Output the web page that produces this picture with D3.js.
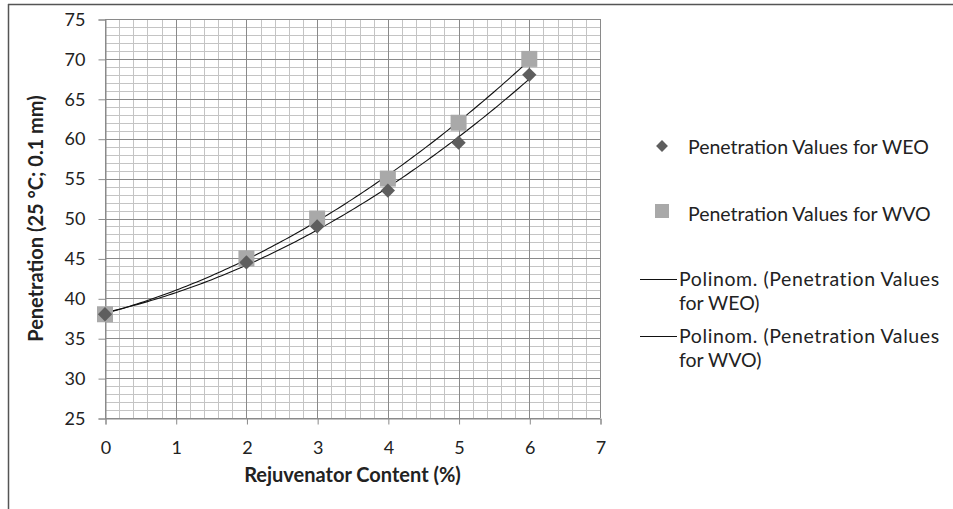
<!DOCTYPE html>
<html>
<head>
<meta charset="utf-8">
<script src="https://cdn.jsdelivr.net/npm/d3@7"></script>
<style>
  body { margin: 0; background: #fff; overflow: hidden; }
  text { font-family: Lato, "Open Sans", sans-serif; fill: #222; }
</style>
</head>
<body>
<script>
const width = 953,
  height = 509;

const margin = { top: 19, right: 353, bottom: 91, left: 105 };
const innerWidth = width - margin.left - margin.right;
const innerHeight = height - margin.top - margin.bottom;

// data
const contents = [0, 2, 3, 4, 5, 6];
const weoValues = [38, 44.5, 49, 53.5, 59.5, 68];
const wvoValues = [38, 45, 50, 55, 62, 70];
const xTicks = [0, 1, 2, 3, 4, 5, 6, 7];
const yTicks = [25, 30, 35, 40, 45, 50, 55, 60, 65, 70, 75];
const legendLabels = [
  "Penetration Values for WEO",
  "Penetration Values for WVO",
  ["Polinom. (Penetration Values", "for WEO)"],
  ["Polinom. (Penetration Values", "for WVO)"]
];

// 2nd order least squares fit, like the excel trendline
function polyFit(xs, ys) {
  let s = [0, 0, 0, 0, 0], t = [0, 0, 0];
  xs.forEach((x, i) => {
    for (let k = 0; k < 5; k++) s[k] += Math.pow(x, k);
    for (let k = 0; k < 3; k++) t[k] += ys[i] * Math.pow(x, k);
  });
  const A = [
    [s[0], s[1], s[2], t[0]],
    [s[1], s[2], s[3], t[1]],
    [s[2], s[3], s[4], t[2]]
  ];
  for (let i = 0; i < 3; i++) {
    for (let j = i + 1; j < 3; j++) {
      const f = A[j][i] / A[i][i];
      for (let k = i; k < 4; k++) A[j][k] -= f * A[i][k];
    }
  }
  const c = [0, 0, 0];
  for (let i = 2; i >= 0; i--) {
    let v = A[i][3];
    for (let k = i + 1; k < 3; k++) v -= A[i][k] * c[k];
    c[i] = v / A[i][i];
  }
  return x => c[0] + c[1] * x + c[2] * x * x;
}

const xScale = d3.scaleLinear().domain([0, 7]).range([0, innerWidth]);
const yScale = d3.scaleLinear().domain([25, 75]).range([innerHeight, 0]);

const svg = d3
  .select("body")
  .append("svg")
  .attr("width", width)
  .attr("height", height);

// outer chart border (only top and left show)
svg
  .append("line")
  .attr("x1", 8).attr("x2", width)
  .attr("y1", 4.5).attr("y2", 4.5)
  .attr("stroke", "#555")
  .attr("stroke-width", 1.5);
svg
  .append("line")
  .attr("x1", 8.5).attr("x2", 8.5)
  .attr("y1", 4).attr("y2", height)
  .attr("stroke", "#555")
  .attr("stroke-width", 1.5);

const g = svg
  .append("g")
  .attr("transform", `translate(${margin.left},${margin.top})`);

// minor grid
g.append("g")
  .selectAll("line")
  .data(d3.range(0, 7.001, 0.2))
  .join("line")
  .attr("x1", d => Math.round(xScale(d)) + 0.5)
  .attr("x2", d => Math.round(xScale(d)) + 0.5)
  .attr("y1", 0)
  .attr("y2", innerHeight)
  .attr("stroke", "#c4c4c4");
g.append("g")
  .selectAll("line")
  .data(d3.range(25, 75.001, 1))
  .join("line")
  .attr("y1", d => Math.round(yScale(d)) + 0.5)
  .attr("y2", d => Math.round(yScale(d)) + 0.5)
  .attr("x1", 0)
  .attr("x2", innerWidth)
  .attr("stroke", "#c4c4c4");

// major grid
g.append("g")
  .selectAll("line")
  .data(xTicks)
  .join("line")
  .attr("x1", d => Math.round(xScale(d)) + 0.5)
  .attr("x2", d => Math.round(xScale(d)) + 0.5)
  .attr("y1", 0)
  .attr("y2", innerHeight)
  .attr("stroke", "#8a8a8a");
g.append("g")
  .selectAll("line")
  .data(yTicks)
  .join("line")
  .attr("y1", d => Math.round(yScale(d)) + 0.5)
  .attr("y2", d => Math.round(yScale(d)) + 0.5)
  .attr("x1", 0)
  .attr("x2", innerWidth)
  .attr("stroke", "#8a8a8a");

// axes
const xAxis = d3.axisBottom(xScale).tickValues(xTicks).tickFormat(d3.format("d"))
  .tickSize(6).tickPadding(17);
const yAxis = d3.axisLeft(yScale).tickValues(yTicks).tickFormat(d3.format("d"))
  .tickSize(7).tickPadding(13);

const xg = g
  .append("g")
  .attr("transform", `translate(0.5,${innerHeight + 0.5})`)
  .call(xAxis);
const yg = g.append("g").attr("transform", "translate(0.5,0.5)").call(yAxis);
[xg, yg].forEach(a => {
  a.attr("font-size", null).attr("font-family", null);
  a.select(".domain").attr("stroke", "#8a8a8a");
  a.selectAll(".tick line").attr("stroke", "#8a8a8a");
  a.selectAll(".tick text")
    .style("font-size", "18px")
    .attr("fill", "#333");
});

// trend lines
const line = d3
  .line()
  .x(d => xScale(d[0]))
  .y(d => yScale(d[1]));
[weoValues, wvoValues].forEach(vals => {
  const f = polyFit(contents, vals);
  const pts = d3.range(0, 6.001, 0.05).map(x => [x, f(x)]);
  g.append("path")
    .attr("d", line(pts))
    .attr("fill", "none")
    .attr("stroke", "#111")
    .attr("stroke-width", 1.1);
});

// markers
g.append("g")
  .selectAll("rect")
  .data(contents)
  .join("rect")
  .attr("x", (d, i) => xScale(d) - 8)
  .attr("y", (d, i) => yScale(wvoValues[i]) - 8)
  .attr("width", 16)
  .attr("height", 16)
  .attr("fill", "#a9a9a9");

g.append("g")
  .selectAll("path")
  .data(contents)
  .join("path")
  .attr("d", d3.symbol(d3.symbolDiamond2, 130))
  .attr("transform", (d, i) => `translate(${xScale(d)},${yScale(weoValues[i])})`)
  .attr("fill", "#5e5e5e");

// axis titles
svg
  .append("text")
  .attr("x", margin.left + innerWidth / 2)
  .attr("y", 482)
  .attr("text-anchor", "middle")
  .attr("font-weight", "bold")
  .style("font-size", "20px")
  .text("Rejuvenator Content (%)");

svg
  .append("text")
  .attr("transform", `translate(43,${margin.top + innerHeight / 2}) rotate(-90)`)
  .attr("text-anchor", "middle")
  .attr("font-weight", "bold")
  .style("font-size", "20px")
  .text("Penetration (25 °C; 0.1 mm)");

// legend
const legend = svg.append("g").attr("class", "legend");
legend
  .append("path")
  .attr("d", d3.symbol(d3.symbolDiamond2, 90))
  .attr("transform", "translate(662,146)")
  .attr("fill", "#5e5e5e");
legend
  .append("rect")
  .attr("x", 655)
  .attr("y", 204)
  .attr("width", 14)
  .attr("height", 14)
  .attr("fill", "#a9a9a9");
[279, 336].forEach(y => {
  legend
    .append("line")
    .attr("x1", 640)
    .attr("x2", 677)
    .attr("y1", y + 0.5)
    .attr("y2", y + 0.5)
    .attr("stroke", "#111");
});

const legendY = [154, 221, 286, 343];
legendLabels.forEach((lab, i) => {
  const t = legend
    .append("text")
    .attr("x", i < 2 ? 688 : 679)
    .attr("y", legendY[i])
    .style("font-size", "19.5px");
  if (Array.isArray(lab)) {
    t.append("tspan").attr("x", 679).style("letter-spacing", "0.6px").text(lab[0]);
    t.append("tspan").attr("x", 679).attr("dy", 24).text(lab[1]);
  } else {
    t.text(lab);
  }
});
</script>
</body>
</html>
